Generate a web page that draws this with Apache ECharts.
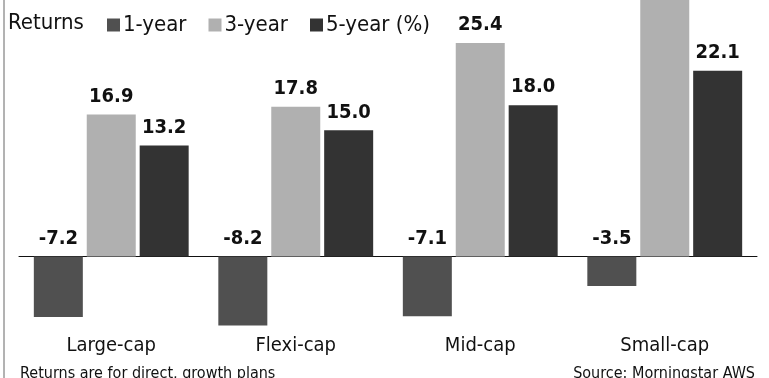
<!DOCTYPE html>
<html>
<head>
<meta charset="utf-8">
<script src="https://cdn.jsdelivr.net/npm/echarts@6/dist/echarts.min.js"></script>
<style>
  html, body {margin: 0; padding: 0; background: #fff;}
  #chart {width: 769px; height: 378px;}
</style>
</head>
<body>
<div id="chart"></div>
<script>
// fund categories and returns (%)
const categories = ['Large-cap', 'Flexi-cap', 'Mid-cap', 'Small-cap']
const oneYear = [-7.2, -8.2, -7.1, -3.5]
const threeYear = [16.9, 17.8, 25.4, 32.5]
const fiveYear = [13.2, 15.0, 18.0, 22.1]

const FONT = '"Liberation Sans Narrow", "DejaVu Sans Condensed", "Noto Sans", sans-serif'

let chart = echarts.init(document.getElementById('chart'))

let valueLabel = {
    show: true,
    position: 'top',
    distance: 8,
    fontFamily: FONT,
    fontSize: 20,
    fontWeight: 'bold',
    color: '#111',
    formatter: (p) => p.value.toFixed(1)
}

function bar(name, data, color) {
    return {
        name: name,
        type: 'bar',
        data: data,
        barWidth: 49,
        barGap: '8%',
        clip: true,
        itemStyle: {color: color},
        label: valueLabel,
        emphasis: {disabled: true}
    }
}

chart.setOption({
    animation: false,
    grid: {left: 19, right: 12, top: 0, bottom: 50, outerBoundsMode: 'none', containLabel: false},
    title: {
        text: 'Returns',
        left: 3, top: 7,
        textStyle: {fontFamily: FONT, fontSize: 22, fontWeight: 'normal', color: '#111'}
    },
    legend: {
        left: 102, top: 9,
        icon: 'rect',
        itemWidth: 13, itemHeight: 13,
        itemGap: 22,
        textStyle: {fontFamily: FONT, fontSize: 22, color: '#111', padding: [0, 0, 0, -2]},
        formatter: (name) => name === '5-year' ? '5-year (%)' : name,
        selectedMode: false
    },
    xAxis: {
        type: 'category',
        data: categories,
        axisLine: {onZero: true, lineStyle: {color: '#111', width: 1}},
        axisTick: {show: false},
        axisLabel: {
            margin: 8,
            fontFamily: FONT,
            fontSize: 20,
            color: '#111'
        }
    },
    yAxis: {
        type: 'value',
        min: -8.5,
        max: 30.5,
        show: false,
        splitLine: {show: false}
    },
    series: [
        bar('1-year', oneYear, '#505050'),
        bar('3-year', threeYear, '#b0b0b0'),
        bar('5-year', fiveYear, '#333333')
    ],
    graphic: [
        {
            type: 'line',
            shape: {x1: 4, y1: 0, x2: 4, y2: 378},
            style: {stroke: '#666', lineWidth: 1}
        },
        {
            type: 'text',
            left: 20, top: 366,
            style: {text: 'Returns are for direct, growth plans', font: '16px ' + FONT, fill: '#111'}
        },
        {
            type: 'text',
            right: 14, top: 366,
            style: {text: 'Source: Morningstar AWS', font: '16px ' + FONT, fill: '#111'}
        }
    ]
})
</script>
</body>
</html>
